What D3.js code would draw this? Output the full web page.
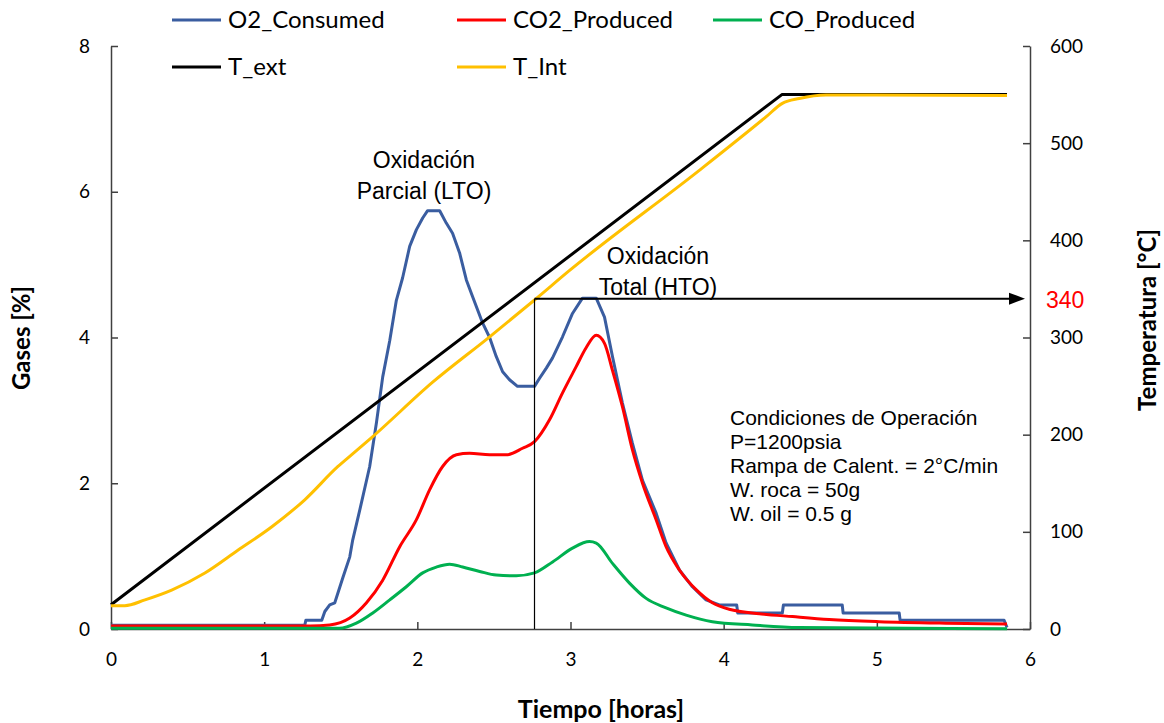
<!DOCTYPE html>
<html><head><meta charset="utf-8">
<script src="https://cdn.jsdelivr.net/npm/d3@7"></script>
<style>body{margin:0;background:#fff}svg{display:block}</style>
</head><body>
<svg id="chart" width="1164" height="723"></svg>
<script>
// ---- data ----
const o2Hours  = [0,1.265,1.272,1.376,1.396,1.428,1.461,1.513,1.559,1.578,1.624,1.689,1.733,1.774,1.82,1.863,1.904,1.95,1.994,2.035,2.067,2.146,2.189,2.23,2.276,2.32,2.361,2.426,2.472,2.515,2.557,2.602,2.654,2.765,2.798,2.842,2.883,2.948,3.013,3.078,3.168,3.222,3.274,3.339,3.404,3.47,3.559,3.624,3.711,3.796,3.885,3.972,4.085,4.092,4.383,4.39,4.774,4.78,5.146,5.152,5.831,5.85];
const o2Values = [0.05,0.05,0.12,0.12,0.24,0.33,0.36,0.7,0.99,1.22,1.63,2.23,2.83,3.46,3.96,4.51,4.82,5.25,5.48,5.64,5.74,5.74,5.57,5.43,5.16,4.79,4.56,4.2,4.0,3.74,3.53,3.42,3.33,3.33,3.44,3.58,3.72,4.01,4.33,4.54,4.54,4.28,3.74,3.1,2.55,2.04,1.59,1.18,0.81,0.58,0.40,0.33,0.33,0.22,0.22,0.33,0.33,0.22,0.22,0.12,0.12,0.02];

const co2Hours  = [0,1.3,1.428,1.559,1.668,1.774,1.885,1.994,2.08,2.165,2.255,2.341,2.472,2.581,2.687,2.765,2.863,2.948,3.037,3.102,3.168,3.222,3.274,3.339,3.404,3.47,3.559,3.624,3.711,3.82,3.926,4.057,4.233,4.45,4.689,5.015,5.45,5.85];
const co2Values = [0.04,0.04,0.055,0.15,0.36,0.67,1.13,1.5,1.91,2.23,2.39,2.41,2.39,2.39,2.48,2.57,2.87,3.24,3.6,3.86,4.03,3.92,3.55,3.05,2.46,2.0,1.5,1.13,0.81,0.54,0.36,0.26,0.21,0.17,0.13,0.1,0.08,0.07];

const coHours  = [0,1.49,1.602,1.709,1.82,1.928,2.035,2.124,2.211,2.296,2.407,2.515,2.646,2.765,2.883,3.013,3.124,3.168,3.274,3.385,3.494,3.624,3.755,3.926,4.187,4.49,5.85];
const coValues = [0.01,0.01,0.08,0.22,0.4,0.58,0.77,0.85,0.89,0.85,0.79,0.74,0.73,0.77,0.92,1.11,1.2,1.18,0.9,0.63,0.42,0.29,0.19,0.1,0.055,0.02,0.005];

const tExtHours  = [0,4.38,5.85];
const tExtValues = [25,550,550];

const tIntHours  = [0,0.09,0.222,0.396,0.613,0.828,1.048,1.265,1.48,1.591,1.709,2.1,2.472,2.765,2.994,3.841,4.276,4.383,4.494,4.668,5.85];
const tIntValues = [24,24,30,40,57.6,81,105,133,167,182,198,254,300.7,338.6,369,472,527,541,546,549.6,549];

const xTicks = [0,1,2,3,4,5,6];
const gasTicks = [0,2,4,6,8];
const tempTicks = [0,100,200,300,400,500,600];

const seriesNames = ["O2_Consumed","CO2_Produced","CO_Produced","T_ext","T_Int"];
const seriesColors = ["#3A5DA0","#FF0000","#00B050","#000000","#FFC000"];

const markerHour = 2.765, markerTemp = 340;
const lto = ["Oxidación","Parcial (LTO)"];
const hto = ["Oxidación","Total (HTO)"];
const conditions = ["Condiciones de Operación","P=1200psia","Rampa de Calent. = 2°C/min","W. roca = 50g","W. oil = 0.5 g"];

// ---- drawing ----
const svg = d3.select("#chart");
const x = d3.scaleLinear().domain([0,6]).range([111,1030]);
const yL = d3.scaleLinear().domain([0,8]).range([629,46]);
const yR = d3.scaleLinear().domain([0,600]).range([629,46]);
const fontC = "Lato, 'Open Sans', sans-serif";
const fontA = "'Liberation Sans', Arial, sans-serif";

function styleAxis(g){
  g.select(".domain").attr("stroke","#404040").attr("stroke-width",1.5);
  g.selectAll(".tick line").attr("stroke","#404040").attr("stroke-width",1.5);
  g.selectAll(".tick text").attr("font-family",fontC).attr("font-size",19).attr("fill","#000");
}
svg.append("g").attr("transform","translate(0,629)")
  .call(d3.axisBottom(x).tickValues(xTicks).tickFormat(d3.format("d")).tickSize(-7).tickPadding(24).tickSizeOuter(0))
  .call(styleAxis);
svg.append("g").attr("transform","translate(111,0)")
  .call(d3.axisLeft(yL).tickValues(gasTicks).tickFormat(d3.format("d")).tickSize(-7).tickPadding(21).tickSizeOuter(0))
  .call(styleAxis);
svg.append("g").attr("transform","translate(1030,0)")
  .call(d3.axisRight(yR).tickValues(tempTicks).tickFormat(d3.format("d")).tickSize(-7).tickPadding(20).tickSizeOuter(0))
  .call(styleAxis);

const lineLin = d3.line().x(d=>x(d[0])).y(d=>yL(d[1]));
const lineL = d3.line().curve(d3.curveMonotoneX).x(d=>x(d[0])).y(d=>yL(d[1]));
const lineR = d3.line().curve(d3.curveMonotoneX).x(d=>x(d[0])).y(d=>yR(d[1]));
const zip = (a,b)=>a.map((v,i)=>[v,b[i]]);

const series = [
  {d:zip(o2Hours,o2Values), f:lineLin},
  {d:zip(co2Hours,co2Values), f:lineL},
  {d:zip(coHours,coValues), f:lineL},
  {d:zip(tExtHours,tExtValues), f:d3.line().x(d=>x(d[0])).y(d=>yR(d[1]))},
  {d:zip(tIntHours,tIntValues), f:lineR}
];
series.forEach((s,i)=>{
  svg.append("path").attr("d",s.f(s.d)).attr("fill","none")
    .attr("stroke",seriesColors[i]).attr("stroke-width",3).attr("stroke-linejoin","round");
});

// marker lines
const mx = x(markerHour), my = yR(markerTemp);
svg.append("line").attr("x1",mx).attr("x2",mx).attr("y1",my).attr("y2",yR(0)).attr("stroke","#000").attr("stroke-width",1.2);
svg.append("line").attr("x1",mx).attr("x2",x(6)-20).attr("y1",my).attr("y2",my).attr("stroke","#000").attr("stroke-width",2);
svg.append("path").attr("d",`M${x(6)-5},${my} L${x(6)-21},${my-6} L${x(6)-21},${my+6} Z`).attr("fill","#000");
svg.append("text").attr("x",x(6)+16).attr("y",my+9).attr("font-family",fontA).attr("font-size",23).attr("fill","#FF0000").text(markerTemp);

// annotations
lto.forEach((t,i)=>svg.append("text").attr("x",424).attr("y",168+31*i).attr("text-anchor","middle")
  .attr("font-family",fontA).attr("font-size",23).text(t));
hto.forEach((t,i)=>svg.append("text").attr("x",658).attr("y",264+31*i).attr("text-anchor","middle")
  .attr("font-family",fontA).attr("font-size",23).text(t));
conditions.forEach((t,i)=>svg.append("text").attr("x",730).attr("y",425+24*i)
  .attr("font-family",fontA).attr("font-size",21).text(t));

// legend
const legendPos = [[172,20],[457,20],[713,20],[172,67],[457,67]];
seriesNames.forEach((n,i)=>{
  const [lx,ly] = legendPos[i];
  svg.append("line").attr("x1",lx).attr("x2",lx+49).attr("y1",ly).attr("y2",ly).attr("stroke",seriesColors[i]).attr("stroke-width",3);
  svg.append("text").attr("x",lx+56).attr("y",ly+8).attr("font-family",fontC).attr("font-size",24).text(n);
});

// axis titles
svg.append("text").attr("x",601).attr("y",718).attr("text-anchor","middle").attr("font-family",fontC)
  .attr("font-weight","bold").attr("font-size",25).text("Tiempo [horas]");
svg.append("text").attr("transform","translate(30,338) rotate(-90)").attr("text-anchor","middle").attr("font-family",fontC)
  .attr("font-weight","bold").attr("font-size",24).text("Gases [%]");
svg.append("text").attr("transform","translate(1156,320) rotate(-90)").attr("text-anchor","middle").attr("font-family",fontC)
  .attr("font-weight","bold").attr("font-size",24).text("Temperatura [°C]");
</script>
</body></html>
